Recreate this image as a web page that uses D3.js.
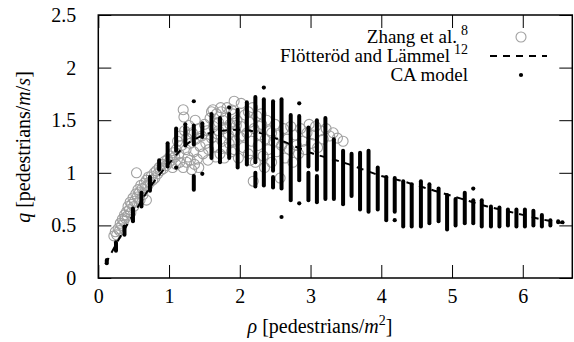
<!DOCTYPE html>
<html>
<head>
<meta charset="utf-8">
<script src="https://cdn.jsdelivr.net/npm/d3@7"></script>
<style>
  body { margin: 0; background: #fff; }
  svg { display: block; }
</style>
</head>
<body>
<div id="chart"></div>
<script>
// tick values
const xTicks = [0, 1, 2, 3, 4, 5, 6];
const yTicks = [0, 0.5, 1, 1.5, 2, 2.5];

// Flötteröd and Lämmel fundamental diagram
const fdRho = [0.1, 0.25, 0.5, 0.75, 1.0, 1.25, 1.5, 1.75, 2.0, 2.25, 2.5, 2.75, 3.0, 3.25, 3.5,
  3.75, 4.0, 4.25, 4.5, 4.75, 5.0, 5.25, 5.5, 5.75, 6.0, 6.25, 6.5, 6.6];
const fdQ = [0.13, 0.32, 0.61, 0.88, 1.09, 1.27, 1.36, 1.40, 1.41, 1.385, 1.33, 1.26, 1.19, 1.14, 1.09,
  1.03, 0.97, 0.93, 0.88, 0.83, 0.78, 0.73, 0.68, 0.64, 0.60, 0.56, 0.53, 0.52];

// CA model: one column per density, dense stacks of dots as [lo, hi] and lone dots
const caRho = [0.12, 0.25, 0.37, 0.49, 0.61, 0.73, 0.86, 0.98, 1.10, 1.23, 1.35, 1.47, 1.60, 1.72,
  1.85, 1.97, 2.10, 2.22, 2.34, 2.47, 2.59, 2.72, 2.84, 2.97, 3.09, 3.21, 3.33, 3.46, 3.58, 3.70,
  3.82, 3.95, 4.07, 4.19, 4.31, 4.43, 4.56, 4.68, 4.81, 4.93, 5.05, 5.18, 5.30, 5.42, 5.55, 5.67,
  5.79, 5.91, 6.03, 6.15, 6.27, 6.39, 6.50, 6.56];
const caRuns = [
  [[0.14, 0.17]], [[0.26, 0.34]], [[0.41, 0.49]], [[0.54, 0.66]], [[0.68, 0.81]], [[0.83, 0.96]],
  [[1.03, 1.12]], [[1.06, 1.28]], [[1.21, 1.42]], [[1.26, 1.43]], [[1.27, 1.45], [0.84, 0.97]],
  [[1.34, 1.47]], [[1.14, 1.56]], [[1.10, 1.52]], [[1.14, 1.56]], [[1.05, 1.60]], [[1.08, 1.67]],
  [[1.10, 1.72], [0.87, 1.00]], [[0.88, 1.70]], [[1.02, 1.68], [0.86, 0.96]], [[0.85, 1.70]],
  [[0.74, 1.55]], [[0.93, 1.54]], [[1.06, 1.43], [0.74, 1.00]], [[1.03, 1.50], [0.72, 0.97]],
  [[0.75, 1.52]], [[0.75, 1.32]], [[0.70, 1.21]], [[0.78, 1.18]], [[0.65, 1.19]], [[0.63, 1.21]],
  [[0.65, 1.05]], [[0.55, 0.96]], [[0.63, 0.95]], [[0.49, 0.92]], [[0.49, 0.89]], [[0.49, 0.92]],
  [[0.52, 0.89]], [[0.54, 0.85]], [[0.46, 0.79]], [[0.50, 0.75]], [[0.52, 0.81]], [[0.52, 0.74]],
  [[0.49, 0.74]], [[0.49, 0.68]], [[0.49, 0.67]], [[0.50, 0.65]], [[0.49, 0.65]], [[0.49, 0.65]],
  [[0.50, 0.64]], [[0.49, 0.60]], [[0.50, 0.55]], [[0.53, 0.54]], []
];
const caSingles = [
  [], [], [], [], [], [], [], [], [1.05], [1.46], [1.68], [0.99], [], [], [1.62], [], [], [], [1.81],
  [], [0.58], [], [1.66, 0.71], [], [], [], [], [], [], [], [], [], [], [0.55], [], [], [], [], [],
  [], [], [], [0.85], [], [], [], [], [], [], [], [], [], [], [0.53]
];

// Zhang et al. measurements [rho, q]
const zhangData = [
  [0.22, 0.40], [0.24, 0.44], [0.26, 0.41], [0.28, 0.47], [0.30, 0.45], [0.31, 0.52], [0.33, 0.50],
  [0.34, 0.56], [0.36, 0.54], [0.37, 0.60], [0.38, 0.57], [0.40, 0.63], [0.41, 0.59], [0.42, 0.68],
  [0.44, 0.65], [0.45, 0.72], [0.46, 0.62], [0.47, 0.70], [0.49, 0.76], [0.50, 0.68], [0.51, 0.73],
  [0.53, 0.80], [0.54, 1.00], [0.55, 0.77], [0.56, 0.84], [0.58, 0.81], [0.59, 0.74], [0.60, 0.88],
  [0.62, 0.85], [0.63, 0.79], [0.65, 0.90], [0.66, 0.86], [0.68, 0.93], [0.68, 0.74], [0.70, 0.88],
  [0.71, 0.96], [0.73, 0.91], [0.75, 0.97], [0.77, 0.93], [0.79, 1.00], [0.80, 0.95], [0.82, 1.02],
  [0.84, 0.99], [0.86, 1.05], [0.88, 1.02], [0.90, 1.08], [0.92, 1.04], [0.94, 1.11], [0.96, 1.07],
  [0.98, 1.13], [1.00, 1.10], [1.02, 1.16], [1.04, 1.12], [1.05, 1.05], [1.06, 1.19], [1.08, 1.15],
  [1.10, 1.22], [1.10, 1.08], [1.12, 1.30], [1.14, 1.18], [1.15, 1.10], [1.16, 1.35], [1.18, 1.26],
  [1.20, 1.60], [1.20, 1.05], [1.21, 1.53], [1.22, 1.40], [1.24, 1.22], [1.25, 1.33], [1.25, 1.10],
  [1.27, 1.15], [1.28, 1.45], [1.30, 1.28], [1.30, 1.12], [1.32, 1.03], [1.33, 1.38], [1.35, 1.20],
  [1.36, 1.08], [1.37, 1.50], [1.38, 1.32], [1.40, 1.13], [1.42, 1.42], [1.42, 1.05], [1.44, 1.25],
  [1.46, 1.35], [1.48, 1.18], [1.50, 1.46], [1.52, 1.28], [1.54, 1.40], [1.55, 1.12], [1.56, 1.22],
  [1.58, 1.52], [1.60, 1.33], [1.60, 1.58], [1.62, 1.60], [1.63, 1.44], [1.65, 1.25], [1.66, 1.15],
  [1.67, 1.56], [1.68, 1.37], [1.70, 1.48], [1.70, 1.40], [1.72, 1.18], [1.73, 1.62], [1.74, 1.58],
  [1.75, 1.30], [1.76, 1.50], [1.77, 1.42], [1.78, 1.14], [1.79, 1.52], [1.80, 1.24], [1.82, 1.62],
  [1.84, 1.36], [1.85, 1.28], [1.86, 1.46], [1.88, 1.20], [1.88, 1.60], [1.90, 1.56], [1.92, 1.30],
  [1.92, 1.68], [1.92, 1.22], [1.94, 1.40], [1.95, 1.45], [1.96, 1.50], [1.98, 1.14], [2.00, 1.34],
  [2.02, 1.44], [2.02, 1.66], [2.05, 1.24], [2.05, 1.35], [2.07, 1.55], [2.10, 1.38], [2.12, 1.18],
  [2.12, 1.58], [2.14, 1.48], [2.15, 1.12], [2.17, 1.30], [2.18, 1.62], [2.19, 0.92], [2.20, 1.42],
  [2.22, 1.10], [2.24, 1.54], [2.26, 1.26], [2.28, 1.44], [2.29, 1.36], [2.30, 1.56], [2.31, 1.46],
  [2.33, 1.16], [2.35, 1.05], [2.36, 1.32], [2.38, 1.50], [2.40, 1.22], [2.43, 1.40], [2.45, 1.10],
  [2.45, 1.38], [2.48, 1.30], [2.50, 1.46], [2.52, 1.20], [2.55, 1.36], [2.57, 0.95], [2.59, 1.26],
  [2.62, 1.42], [2.64, 1.14], [2.67, 1.32], [2.70, 1.22], [2.72, 1.44], [2.75, 1.10], [2.78, 1.36],
  [2.80, 1.26], [2.83, 1.18], [2.86, 1.42], [2.89, 1.30], [2.92, 1.22], [2.95, 1.38], [2.98, 1.46],
  [3.01, 1.28], [3.04, 1.36], [3.07, 1.44], [3.10, 1.24], [3.14, 1.40], [3.18, 1.32], [3.22, 1.42],
  [3.27, 1.35], [3.32, 1.38], [3.38, 1.33], [3.46, 1.30]
];

const legendNames = ["Zhang et al.", "Flötteröd and Lämmel", "CA model"];
const legendRefs = ["8", "12", ""];

const width = 574, height = 342;
const margin = { top: 15, right: 1.7, bottom: 64, left: 98.3 };
const grey = "#a0a0a0";
const serif = '"Liberation Serif", "Times New Roman", Times, "Nimbus Roman", "Nimbus Roman No9 L", ' +
  '"DejaVu Serif", "Noto Serif", FreeSerif, Tinos, serif';

const svg = d3.select("#chart").append("svg")
  .attr("width", width)
  .attr("height", height)
  .style("font-family", serif);

const x = d3.scaleLinear().domain([0, 6.7]).range([margin.left, width - margin.right]);
const y = d3.scaleLinear().domain([0, 2.5]).range([height - margin.bottom, margin.top]);

const fmt = d3.format("~g");
const tickLen = 13;

// axes with inward ticks, mirrored on top and right
const gx = svg.append("g")
  .attr("transform", `translate(0,${y(0)})`)
  .call(d3.axisBottom(x).tickValues(xTicks).tickFormat(fmt)
    .tickSizeInner(-tickLen).tickSizeOuter(0).tickPadding(11));
const gy = svg.append("g")
  .attr("transform", `translate(${x(0)},0)`)
  .call(d3.axisLeft(y).tickValues(yTicks).tickFormat(fmt)
    .tickSizeInner(-tickLen).tickSizeOuter(0).tickPadding(22));
const gt = svg.append("g")
  .attr("transform", `translate(0,${y(2.5)})`)
  .call(d3.axisTop(x).tickValues(xTicks).tickFormat("").tickSizeInner(-tickLen).tickSizeOuter(0));
const gr = svg.append("g")
  .attr("transform", `translate(${x(6.7)},0)`)
  .call(d3.axisRight(y).tickValues(yTicks).tickFormat("").tickSizeInner(-tickLen).tickSizeOuter(0));

[gx, gy, gt, gr].forEach(g => {
  g.attr("font-family", null).attr("font-size", 20);
  g.select(".domain").remove();
  g.selectAll(".tick line").attr("stroke", "#000").attr("stroke-width", 1);
  g.selectAll(".tick text").attr("fill", "#000");
});

// Zhang et al. circles
svg.append("g")
  .selectAll("circle")
  .data(zhangData)
  .join("circle")
  .attr("cx", d => x(d[0]))
  .attr("cy", d => y(d[1]))
  .attr("r", 5)
  .attr("fill", "none")
  .attr("stroke", grey)
  .attr("stroke-width", 1.1);

// fundamental diagram
const fdPoints = fdRho.map((r, i) => [r, fdQ[i]]);
svg.append("path")
  .datum(fdPoints)
  .attr("d", d3.line().x(d => x(d[0])).y(d => y(d[1])).curve(d3.curveMonotoneX))
  .attr("fill", "none")
  .attr("stroke", "#000")
  .attr("stroke-width", 2)
  .attr("stroke-dasharray", "7,6");

// CA model columns
const caCols = caRho.map((r, i) => ({ rho: r, runs: caRuns[i], singles: caSingles[i] }));
const ca = svg.append("g");
ca.selectAll("line")
  .data(caCols.flatMap(c => c.runs.map(run => ({ rho: c.rho, lo: run[0], hi: run[1] }))))
  .join("line")
  .attr("x1", d => x(d.rho)).attr("x2", d => x(d.rho))
  .attr("y1", d => y(d.lo)).attr("y2", d => y(d.hi))
  .attr("stroke", "#000")
  .attr("stroke-width", 4)
  .attr("stroke-linecap", "round");
ca.selectAll("circle")
  .data(caCols.flatMap(c => c.singles.map(q => ({ rho: c.rho, q }))))
  .join("circle")
  .attr("cx", d => x(d.rho))
  .attr("cy", d => y(d.q))
  .attr("r", 2.1)
  .attr("fill", "#000");

// frame
svg.append("rect")
  .attr("x", x(0)).attr("y", y(2.5))
  .attr("width", x(6.7) - x(0)).attr("height", y(0) - y(2.5))
  .attr("fill", "none")
  .attr("stroke", "#000")
  .attr("stroke-width", 1.5);

// legend
const legendRight = 468;
const rowY = [37, 56, 75];
const legend = svg.append("g").attr("font-size", 19);
legendNames.forEach((name, i) => {
  const t = legend.append("text")
    .attr("x", legendRight)
    .attr("y", rowY[i] + 6)
    .attr("text-anchor", "end")
    .text(name);
  if (legendRefs[i]) {
    t.append("tspan").attr("dx", 4).attr("dy", -8).attr("font-size", 14).text(legendRefs[i]);
  }
});
legend.append("circle")
  .attr("cx", 521).attr("cy", rowY[0]).attr("r", 5)
  .attr("fill", "none").attr("stroke", grey).attr("stroke-width", 1.1);
legend.append("line")
  .attr("x1", 490).attr("x2", 547).attr("y1", rowY[1]).attr("y2", rowY[1])
  .attr("stroke", "#000").attr("stroke-width", 2).attr("stroke-dasharray", "7,6");
legend.append("circle")
  .attr("cx", 521).attr("cy", rowY[2]).attr("r", 2.1).attr("fill", "#000");

// axis titles
const xl = svg.append("text")
  .attr("x", 320).attr("y", 333)
  .attr("text-anchor", "middle")
  .attr("font-size", 20);
xl.append("tspan").attr("font-style", "italic").text("ρ");
xl.append("tspan").text(" [pedestrians/");
xl.append("tspan").attr("font-style", "italic").text("m");
xl.append("tspan").attr("dy", -8).attr("font-size", 14).text("2");
xl.append("tspan").attr("dy", 8).text("]");

const yl = svg.append("text")
  .attr("transform", "translate(30,147) rotate(-90)")
  .attr("text-anchor", "middle")
  .attr("font-size", 20);
yl.append("tspan").attr("font-style", "italic").text("q");
yl.append("tspan").text(" [pedestrians/");
yl.append("tspan").attr("font-style", "italic").text("m");
yl.append("tspan").text("/");
yl.append("tspan").attr("font-style", "italic").text("s");
yl.append("tspan").text("]");
</script>
</body>
</html>
